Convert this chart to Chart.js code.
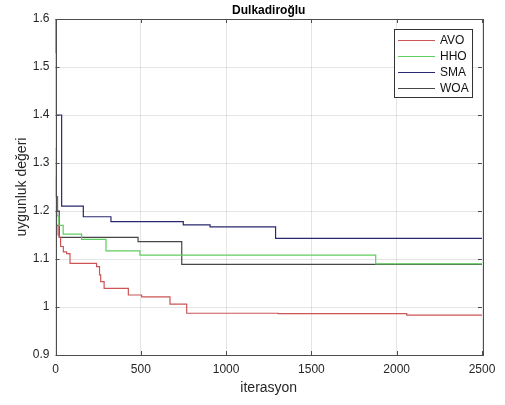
<!DOCTYPE html>
<html>
<head>
<meta charset="utf-8">
<script src="https://cdn.jsdelivr.net/npm/chart.js@4"></script>
<style>
  html, body { margin: 0; padding: 0; background: #fff; }
  #wrap { width: 505px; height: 405px; }
</style>
</head>
<body>
<div id="wrap"><canvas id="myChart" width="505" height="405"></canvas></div>
<script>
// values (iteration where each level starts)
var iterAVO = [0, 6, 15, 22, 30, 46, 65, 85, 241, 258, 265, 285, 427, 505, 671, 769, 1305, 2059, 2500];
var valAVO  = [1.2, 1.17, 1.15, 1.145, 1.126, 1.115, 1.111, 1.091, 1.084, 1.067, 1.053, 1.039, 1.025, 1.021, 1.006, 0.987, 0.986, 0.983, 0.983];

var iterHHO = [0, 3, 8, 20, 45, 153, 296, 495, 1877, 2500];
var valHHO  = [1.27, 1.23, 1.19, 1.17, 1.152, 1.141, 1.117, 1.108, 1.09, 1.09];

var iterSMA = [0, 2, 5, 36, 163, 325, 749, 906, 1290, 2500];
var valSMA  = [1.6, 1.53, 1.40, 1.21, 1.188, 1.178, 1.171, 1.167, 1.143, 1.143];

var iterWOA = [0, 5, 12, 22, 484, 740, 2500];
var valWOA  = [1.33, 1.23, 1.2, 1.145, 1.136, 1.089, 1.089];

var xTicks = [0, 500, 1000, 1500, 2000, 2500];
var yTicks = [0.9, 1, 1.1, 1.2, 1.3, 1.4, 1.5, 1.6];

function pts(xs, ys) {
  return xs.map(function (x, i) { return {x: x, y: ys[i]}; });
}

var FONT = '"Liberation Sans", Arial, sans-serif';

// plot box, inward ticks, title and legend drawn like MATLAB
var matlabBits = {
  id: 'matlabBits',
  afterDatasetsDraw: function (chart) {
    var c = chart.ctx, a = chart.chartArea;
    var xs = chart.scales.x, ys = chart.scales.y;
    c.save();
    c.strokeStyle = '#4d4d4d';
    c.lineWidth = 1;
    c.beginPath();
    xTicks.forEach(function (t) {
      var px = Math.round(xs.getPixelForValue(t)) + 0.5;
      c.moveTo(px, a.bottom); c.lineTo(px, a.bottom - 4);
      c.moveTo(px, a.top); c.lineTo(px, a.top + 4);
    });
    yTicks.forEach(function (t) {
      var py = Math.round(ys.getPixelForValue(t)) + 0.5;
      c.moveTo(a.left, py); c.lineTo(a.left + 4, py);
      c.moveTo(a.right, py); c.lineTo(a.right - 4, py);
    });
    c.stroke();
    c.strokeRect(Math.round(a.left) + 0.5, Math.round(a.top) + 0.5,
                 Math.round(a.right - a.left), Math.round(a.bottom - a.top));

    // title
    c.fillStyle = '#000';
    c.font = 'bold 12px ' + FONT;
    c.textAlign = 'center';
    c.textBaseline = 'middle';
    c.fillText('Dulkadiroğlu', (a.left + a.right) / 2, 11);

    // legend
    var lx = 394.5, ly = 29.5, lw = 78, lh = 68;
    c.fillStyle = '#fff';
    c.fillRect(lx, ly, lw, lh);
    c.strokeStyle = '#333';
    c.strokeRect(lx, ly, lw, lh);
    c.font = '12px ' + FONT;
    c.textAlign = 'left';
    chart.data.datasets.forEach(function (ds, i) {
      var y = 40 + i * 16;
      c.strokeStyle = ds.borderColor;
      c.lineWidth = 1.2;
      c.beginPath();
      c.moveTo(398, y + 0.5); c.lineTo(435, y + 0.5);
      c.stroke();
      c.fillStyle = '#111';
      c.fillText(ds.label, 440, y + 1);
    });
    c.restore();
  }
};

var ctx = document.getElementById('myChart').getContext('2d');
var myChart = new Chart(ctx, {
  type: 'line',
  data: {
    datasets: [{
        label: 'AVO',
        data: pts(iterAVO, valAVO),
        borderColor: 'rgb(205, 85, 85)',
        borderWidth: 1.2,
        stepped: 'before',
        pointRadius: 0
      }, {
        label: 'HHO',
        data: pts(iterHHO, valHHO),
        borderColor: 'rgb(95, 205, 95)',
        borderWidth: 1.2,
        stepped: 'before',
        pointRadius: 0
      }, {
        label: 'SMA',
        data: pts(iterSMA, valSMA),
        borderColor: 'rgb(40, 40, 110)',
        borderWidth: 1.2,
        stepped: 'before',
        pointRadius: 0
      }, {
        label: 'WOA',
        data: pts(iterWOA, valWOA),
        borderColor: 'rgb(70, 70, 70)',
        borderWidth: 1.2,
        stepped: 'before',
        pointRadius: 0
      }
    ]
  },
  options: {
    responsive: false,
    animation: false,
    layout: { padding: { top: 19, right: 23, left: 0, bottom: 0 } },
    plugins: {
      legend: { display: false },
      title: { display: false },
      tooltip: { enabled: false }
    },
    scales: {
      x: {
        type: 'linear',
        min: 0, max: 2500,
        afterFit: function (s) { s.height = 50; },
        afterBuildTicks: function (s) { s.ticks = xTicks.map(function (v) { return {value: v}; }); },
        grid: { color: 'rgba(0,0,0,0.1)', drawTicks: false },
        border: { display: false },
        ticks: { padding: 7, color: '#262626', font: { family: FONT, size: 12 }, maxRotation: 0,
                 callback: function (v) { return String(v); } },
        title: { display: true, text: 'iterasyon', color: '#262626',
                 font: { family: FONT, size: 14 }, padding: { top: 0, bottom: 8.6 } }
      },
      y: {
        min: 0.9, max: 1.6,
        afterFit: function (s) { s.width = 55.5; },
        afterBuildTicks: function (s) { s.ticks = yTicks.map(function (v) { return {value: v}; }); },
        grid: { color: 'rgba(0,0,0,0.1)', drawTicks: false },
        border: { display: false },
        ticks: { padding: 6, color: '#262626', font: { family: FONT, size: 12 },
                 callback: function (v) { return String(+v.toFixed(1)); } },
        title: { display: true, text: 'uygunluk değeri', color: '#262626',
                 font: { family: FONT, size: 14 }, padding: { top: 13.6, bottom: 0 } }
      }
    }
  },
  plugins: [matlabBits]
});
</script>
</body>
</html>
